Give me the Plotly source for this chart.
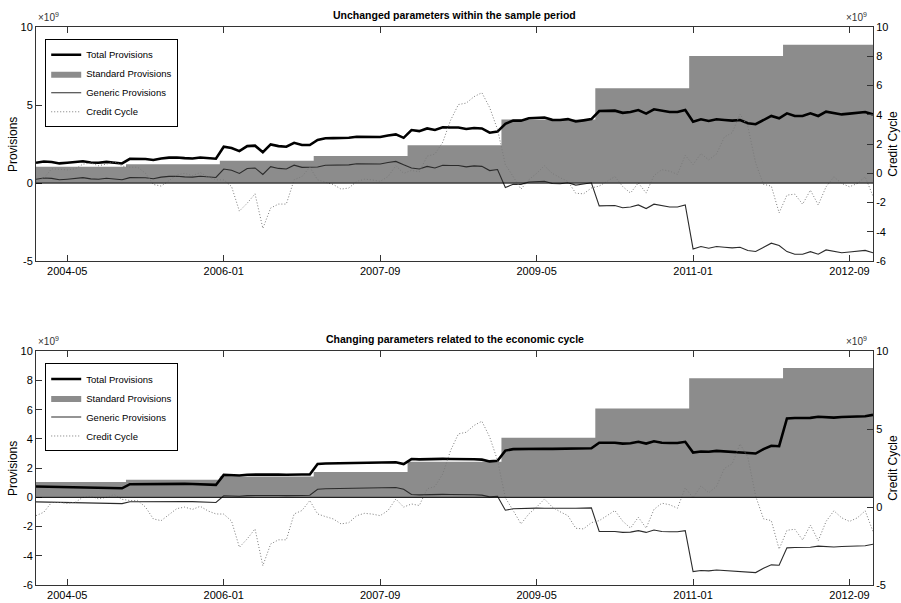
import plotly.graph_objects as go
import pandas as pd

# ---------------- data ----------------
months = pd.period_range('2004-01', periods=108, freq='M').strftime('%Y-%m').tolist()
tick_labels = ['2004-05', '2006-01', '2007-09', '2009-05', '2011-01', '2012-09']
years = list(range(2004, 2013))
standard_by_year = [1.05, 1.2, 1.43, 1.73, 2.43, 4.08, 6.08, 8.15, 8.86]

total_top = [
    1.30, 1.38, 1.35, 1.26, 1.30, 1.35, 1.40, 1.32, 1.30, 1.36, 1.30, 1.26,
    1.55, 1.56, 1.54, 1.48, 1.58, 1.63, 1.64, 1.60, 1.58, 1.64, 1.60, 1.56,
    2.33, 2.25, 2.05, 2.37, 2.40, 1.98, 2.48, 2.37, 2.33, 2.58, 2.44, 2.44,
    2.76, 2.87, 2.88, 2.88, 2.90, 2.97, 2.95, 2.93, 2.95, 3.05, 3.12, 2.90,
    3.40, 3.33, 3.50, 3.40, 3.57, 3.56, 3.56, 3.47, 3.53, 3.50, 3.23, 3.30,
    3.80, 4.00, 4.00, 4.15, 4.18, 4.20, 4.05, 4.04, 4.10, 3.95, 4.02, 4.10,
    4.62, 4.64, 4.64, 4.50, 4.55, 4.68, 4.45, 4.73, 4.62, 4.55, 4.55, 4.68,
    3.93, 4.09, 3.98, 4.09, 4.04, 4.00, 4.04, 3.83, 3.77, 4.04, 4.30, 4.15,
    4.47, 4.30, 4.30, 4.47, 4.30, 4.58, 4.50, 4.40, 4.45, 4.50, 4.55, 4.40,
]
generic_top = [
    0.25, 0.33, 0.30, 0.21, 0.25, 0.30, 0.35, 0.27, 0.25, 0.31, 0.25, 0.21,
    0.35, 0.36, 0.34, 0.28, 0.38, 0.43, 0.44, 0.40, 0.38, 0.44, 0.40, 0.36,
    0.90, 0.82, 0.62, 0.94, 0.97, 0.55, 1.05, 0.94, 0.90, 1.15, 1.01, 1.01,
    1.03, 1.14, 1.15, 1.15, 1.17, 1.24, 1.22, 1.20, 1.22, 1.32, 1.39, 1.17,
    0.97, 0.90, 1.07, 0.97, 1.14, 1.13, 1.13, 1.04, 1.10, 1.07, 0.80, 0.87,
    -0.28, -0.08, -0.08, 0.07, 0.10, 0.12, -0.03, -0.04, 0.02, -0.13, -0.06, 0.02,
    -1.46, -1.44, -1.44, -1.58, -1.53, -1.40, -1.63, -1.35, -1.46, -1.53, -1.53, -1.40,
    -4.22, -4.06, -4.17, -4.06, -4.11, -4.15, -4.11, -4.32, -4.38, -4.11, -3.85, -4.00,
    -4.39, -4.56, -4.56, -4.39, -4.56, -4.28, -4.36, -4.46, -4.41, -4.36, -4.31, -4.46,
]
total_bottom = [
    0.74, 0.73, 0.73, 0.72, 0.71, 0.70, 0.69, 0.68, 0.67, 0.66, 0.64, 0.62,
    0.90, 0.91, 0.92, 0.92, 0.92, 0.93, 0.93, 0.92, 0.91, 0.90, 0.88, 0.85,
    1.54, 1.52, 1.50, 1.55, 1.56, 1.52, 1.57, 1.56, 1.55, 1.58, 1.56, 1.57,
    2.28, 2.32, 2.33, 2.33, 2.35, 2.36, 2.36, 2.35, 2.36, 2.38, 2.40, 2.28,
    2.62, 2.60, 2.62, 2.61, 2.63, 2.62, 2.63, 2.62, 2.61, 2.58, 2.46, 2.50,
    3.20, 3.30, 3.32, 3.33, 3.34, 3.33, 3.32, 3.32, 3.31, 3.33, 3.34, 3.36,
    3.74, 3.74, 3.74, 3.68, 3.70, 3.80, 3.68, 3.84, 3.74, 3.72, 3.72, 3.80,
    3.07, 3.14, 3.12, 3.18, 3.15, 3.12, 3.10, 3.02, 3.00, 3.30, 3.53, 3.50,
    5.40, 5.43, 5.45, 5.44, 5.52, 5.48, 5.46, 5.50, 5.52, 5.54, 5.55, 5.65,
]
generic_bottom = [
    -0.31, -0.32, -0.32, -0.33, -0.34, -0.35, -0.36, -0.37, -0.38, -0.39, -0.41, -0.43,
    -0.30, -0.29, -0.28, -0.28, -0.28, -0.27, -0.27, -0.28, -0.29, -0.30, -0.32, -0.35,
    0.11, 0.09, 0.07, 0.12, 0.13, 0.09, 0.14, 0.13, 0.12, 0.15, 0.13, 0.14,
    0.55, 0.59, 0.60, 0.60, 0.62, 0.63, 0.63, 0.62, 0.63, 0.65, 0.67, 0.55,
    0.19, 0.17, 0.19, 0.18, 0.20, 0.19, 0.20, 0.19, 0.18, 0.15, 0.03, 0.07,
    -0.88, -0.78, -0.76, -0.75, -0.74, -0.75, -0.76, -0.76, -0.77, -0.75, -0.74, -0.72,
    -2.34, -2.34, -2.34, -2.40, -2.38, -2.28, -2.40, -2.24, -2.34, -2.36, -2.36, -2.28,
    -5.08, -5.01, -5.03, -4.97, -5.00, -5.03, -5.05, -5.13, -5.15, -4.85, -4.62, -4.65,
    -3.46, -3.43, -3.41, -3.42, -3.34, -3.38, -3.40, -3.36, -3.34, -3.32, -3.31, -3.21,
]
credit_cycle = [
    -0.55, -0.33, 0.31, 0.30, 0.24, 0.30, 0.63, 0.70, 0.52, 0.63, 0.80, 0.50,
    0.42, 0.42, 0.00, -0.76, -0.87, -0.50, -0.10, 0.00, -0.15, 0.05, -0.25, -0.44,
    -0.45, -0.90, -2.58, -2.04, -1.40, -3.76, -2.37, -2.10, -2.10, -0.44, -0.22, 0.42,
    -0.44, -0.61, -0.76, -1.08, -1.00, -0.55, -0.40, -0.45, -0.55, -0.22, 0.52, 0.00,
    0.20, 0.10, 1.17, 1.32, 2.13, 3.63, 4.70, 4.80, 5.24, 5.51, 4.49, 3.00,
    0.60, -0.22, -1.08, -0.44, 0.00, 0.52, 0.00, -0.30, -0.55, -1.36, -1.40, -1.00,
    -0.87, -0.55, -0.22, -0.90, -1.35, -0.65, -1.35, -0.15, 0.25, 0.15, -0.07, 1.23,
    0.60, 1.35, 0.92, 1.33, 2.48, 2.78, 4.05, 3.20, 0.70, -0.75, -0.87, -2.70,
    -1.49, -1.42, -2.11, -1.15, -2.16, -0.92, -0.24, -0.69, -0.92, -0.69, -0.24, -1.56,
]

standard_monthly = [standard_by_year[years.index(int(m[:4]))] for m in months]

# ---------------- styling ----------------
FONT = 'Liberation Sans, Arial, sans-serif'
AX = '#333333'
GRAY = '#8c8c8c'
FIG_H = 613  # rendered height; the photo is taken slightly taller than 603 and scaled
VS = FIG_H / 603.0

fig = go.Figure()

panels = [
    dict(x='x', y='y', y2='y2', legend='legend', total=total_top, generic=generic_top),
    dict(x='x2', y='y3', y2='y4', legend='legend2', total=total_bottom, generic=generic_bottom),
]
for p in panels:
    fig.add_trace(go.Scatter(
        x=months, y=standard_monthly, name='Standard Provisions', mode='lines',
        line=dict(width=0, shape='hvh', color=GRAY), fill='tozeroy', fillcolor=GRAY,
        xaxis=p['x'], yaxis=p['y'], legend=p['legend'], legendrank=2))
    fig.add_trace(go.Scatter(
        x=months, y=p['generic'], name='Generic Provisions', mode='lines',
        line=dict(width=1.1, color='#2b2b2b'),
        xaxis=p['x'], yaxis=p['y'], legend=p['legend'], legendrank=3))
    fig.add_trace(go.Scatter(
        x=months, y=credit_cycle, name='Credit Cycle', mode='lines',
        line=dict(width=1, color='#7a7a7a', dash='1px,2px'),
        xaxis=p['x'], yaxis=p['y2'], legend=p['legend'], legendrank=4))
    fig.add_trace(go.Scatter(
        x=months, y=p['total'], name='Total Provisions', mode='lines',
        line=dict(width=2.6, color='black'),
        xaxis=p['x'], yaxis=p['y'], legend=p['legend'], legendrank=1))
    fig.add_shape(type='line', xref=p['x'] + ' domain', x0=0, x1=1,
                  yref=p['y'], y0=0, y1=0, line=dict(color='black', width=1), layer='above')

common = dict(showline=True, linecolor=AX, linewidth=1, ticks='inside', ticklen=6,
              tickcolor=AX, showgrid=False, zeroline=False,
              tickfont=dict(family=FONT, size=11, color='black'))


def yticks(lo, hi, step):
    vals = list(range(lo, hi + 1, step))
    return dict(range=[lo, hi], tickmode='array', tickvals=vals, ticktext=[str(v) for v in vals])


xcommon = dict(type='category', range=[0, len(months) - 1], tickmode='array',
               tickvals=tick_labels, ticktext=tick_labels, mirror='ticks', **common)

top_dom = [0.5804, 1.0]
bot_dom = [0.0, 0.4189]

legend_style = dict(xanchor='left', yanchor='top', bgcolor='white', bordercolor='black',
                    borderwidth=1, font=dict(family=FONT, size=9.5, color='black'),
                    tracegroupgap=0, itemwidth=30)

fig.update_layout(
    width=901, height=FIG_H,
    margin=dict(l=36, r=28, t=27 * VS, b=19 * VS),
    plot_bgcolor='white', paper_bgcolor='white',
    showlegend=True,
    xaxis=dict(domain=[0, 1], anchor='y', **xcommon),
    yaxis=dict(domain=top_dom, anchor='x', mirror=True, **yticks(-5, 10, 5), **common),
    yaxis2=dict(overlaying='y', side='right', anchor='x', **yticks(-6, 10, 2), **common),
    xaxis2=dict(domain=[0, 1], anchor='y3', **xcommon),
    yaxis3=dict(domain=bot_dom, anchor='x2', mirror=True, **yticks(-6, 10, 2), **common),
    yaxis4=dict(overlaying='y3', side='right', anchor='x2', **yticks(-5, 10, 5), **common),
    legend=dict(x=0.011, y=0.978, **legend_style),
    legend2=dict(x=0.011, y=0.397, **legend_style),
)

ann = []
titles = [('Unchanged parameters within the sample period', 1.0215),
          ('Changing parameters related to the economic cycle', 0.441)]
for text, yy in titles:
    ann.append(dict(text='<b>' + text + '</b>', xref='paper', yref='paper', x=0.5, y=yy,
                    xanchor='center', yanchor='middle', showarrow=False,
                    font=dict(family=FONT, size=10.5, color='black')))
for yy in [1.0036, 0.4225]:
    ann.append(dict(text='\u00d710<sup>9</sup>', xref='paper', yref='paper', x=0.0, y=yy,
                    xanchor='left', yanchor='bottom', showarrow=False,
                    font=dict(family=FONT, size=10, color='#333333')))
    ann.append(dict(text='\u00d710<sup>9</sup>', xref='paper', yref='paper', x=0.995, y=yy,
                    xanchor='right', yanchor='bottom', showarrow=False,
                    font=dict(family=FONT, size=10, color='#333333')))
for yy in [(top_dom[0] + top_dom[1]) / 2, (bot_dom[0] + bot_dom[1]) / 2]:
    ann.append(dict(text='Provisions', xref='paper', yref='paper', x=-0.0275, y=yy,
                    xanchor='center', yanchor='middle', textangle=-90, showarrow=False,
                    font=dict(family=FONT, size=12, color='black')))
    ann.append(dict(text='Credit Cycle', xref='paper', yref='paper', x=1.0235, y=yy,
                    xanchor='center', yanchor='middle', textangle=-90, showarrow=False,
                    font=dict(family=FONT, size=12, color='black')))
fig.update_layout(annotations=ann)

page_css = ("document.documentElement.style.margin='0px';"
            "document.body.style.margin='0px';")
fig.write_html('out.html', config={'displayModeBar': False}, post_script=page_css)
